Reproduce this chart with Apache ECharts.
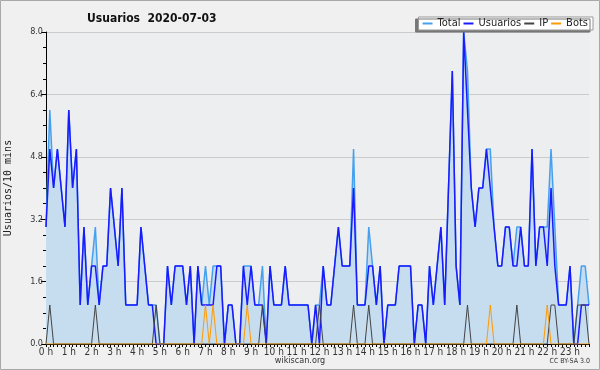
<!DOCTYPE html>
<html><head><meta charset="utf-8">
<script src="https://cdn.jsdelivr.net/npm/echarts@6/dist/echarts.min.js"></script>
<style>html,body{margin:0;padding:0;background:#f0f0f0}#c{width:600px;height:370px}</style>
</head><body><div id="c"></div>
<script>
const hours = ["0 h","1 h","2 h","3 h","4 h","5 h","6 h","7 h","8 h","9 h","10 h","11 h","12 h","13 h","14 h","15 h","16 h","17 h","18 h","19 h","20 h","21 h","22 h","23 h"];
const yTicks = [0, 1.6, 3.2, 4.8, 6.4, 8.0];
const total = [3,6,4,5,4,3,6,4,5,1,3,1,2,3,1,2,2,4,3,2,4,1,1,1,
  1,3,2,1,1,1,0,0,2,1,2,2,2,1,2,0,2,1,2,1,2,2,2,0,
  1,1,0,0,2,2,2,1,1,2,0,2,1,1,1,2,1,1,1,1,1,1,0,1,
  1,2,1,1,2,3,2,2,2,5,1,1,1,3,2,1,2,0,1,1,1,2,2,2,
  2,0,1,1,0,2,1,2,3,1,4,7,2,1,8,7,4,3,4,4,5,5,3,2,
  2,3,3,2,3,3,2,2,5,2,3,3,3,5,3,1,1,1,2,0,1,2,2,1];
const usuarios = [3,5,4,5,4,3,6,4,5,1,3,1,2,2,1,2,2,4,3,2,4,1,1,1,
  1,3,2,1,1,0,0,0,2,1,2,2,2,1,2,0,2,1,1,1,1,2,2,0,
  1,1,0,0,2,1,2,1,1,1,0,2,1,1,1,2,1,1,1,1,1,1,0,1,
  0,2,1,1,2,3,2,2,2,4,1,1,1,2,2,1,2,0,1,1,1,2,2,2,
  2,0,1,1,0,2,1,2,3,1,4,7,2,1,8,6,4,3,4,4,5,4,3,2,
  2,3,3,2,2,3,2,2,5,2,3,3,2,4,2,1,1,1,2,0,0,1,1,1];
const ip = [0,1,0,0,0,0,0,0,0,0,0,0,0,1,0,0,0,0,0,0,0,0,0,0,
  0,0,0,0,0,1,0,0,0,0,0,0,0,0,0,0,0,0,0,0,0,0,0,0,
  0,0,0,0,0,0,0,0,0,1,0,0,0,0,0,0,0,0,0,0,0,0,0,0,
  1,0,0,0,0,0,0,0,0,1,0,0,0,1,0,0,0,0,0,0,0,0,0,0,
  0,0,0,0,0,0,0,0,0,0,0,0,0,0,0,1,0,0,0,0,0,0,0,0,
  0,0,0,0,1,0,0,0,0,0,0,0,0,1,1,0,0,0,0,0,1,1,1,0];
const bots = [0,0,0,0,0,0,0,0,0,0,0,0,0,0,0,0,0,0,0,0,0,0,0,0,
  0,0,0,0,0,0,0,0,0,0,0,0,0,0,0,0,0,0,1,0,1,0,0,0,
  0,0,0,0,0,1,0,0,0,0,0,0,0,0,0,0,0,0,0,0,0,0,0,0,
  0,0,0,0,0,0,0,0,0,0,0,0,0,0,0,0,0,0,0,0,0,0,0,0,
  0,0,0,0,0,0,0,0,0,0,0,0,0,0,0,0,0,0,0,0,0,1,0,0,
  0,0,0,0,0,0,0,0,0,0,0,0,1,0,0,0,0,0,0,0,0,0,0,0];
const slots = total.map((_, i) => String(i));
const FONT = "'DejaVu Sans Condensed','DejaVu Sans',sans-serif";

const chart = echarts.init(document.getElementById('c'), null, {renderer:'canvas'});
chart.setOption({
  animation: false,
  backgroundColor: '#f0f0f0',
  textStyle: {fontFamily: FONT},
  title: {text: 'Usuarios  2020-07-03', left: 82, top: 8,
    textStyle: {fontFamily: FONT, fontSize: 12, fontWeight: 'bold', color: '#111'}},
  legend: {
    right: 7, top: 17, orient: 'horizontal',
    backgroundColor: '#ffffff', borderColor: '#999', borderWidth: 1,
    padding: [1, 5, 1, 4], itemGap: 3, itemWidth: 10, itemHeight: 2, icon: 'rect',
    shadowColor: '#777', shadowOffsetX: -3, shadowOffsetY: 2, shadowBlur: 0,
    textStyle: {fontFamily: FONT, fontSize: 11, color: '#222'},
    data: ['Total','Usuarios','IP','Bots']
  },
  grid: {left: 46, right: 11, top: 32, bottom: 26, show: true, backgroundColor: '#eceef0', borderWidth: 0,
    containLabel: false, outerBoundsMode: 'none'},
  xAxis: {
    type: 'category', data: slots, boundaryGap: false,
    axisLine: {lineStyle: {color: '#000', width: 1}},
    axisTick: {interval: 0, length: 3, lineStyle: {color: '#000'}},
    axisLabel: {interval: (i) => i % 6 === 0, formatter: (v, i) => hours[i / 6],
      fontSize: 10, color: '#333', margin: 3, fontFamily: FONT},
    splitLine: {show: false}
  },
  yAxis: {
    type: 'value', min: yTicks[0], max: yTicks[yTicks.length - 1], interval: yTicks[1],
    name: 'Usuarios/10 mins', nameLocation: 'middle', nameGap: 33, nameRotate: 90,
    nameTextStyle: {fontFamily: "'DejaVu Sans Mono',monospace", fontSize: 10, color: '#222'},
    axisLine: {show: true, lineStyle: {color: '#000'}},
    axisTick: {show: true, length: 5, lineStyle: {color: '#000'}},
    minorTick: {show: true, splitNumber: 4, length: 3, lineStyle: {color: '#000'}},
    axisLabel: {formatter: (v) => v.toFixed(1), fontSize: 9, color: '#333', margin: 3, fontFamily: FONT},
    splitLine: {show: true, lineStyle: {color: '#cbcbcb', width: 1}}
  },
  series: [
    {name: 'Total', type: 'line', data: total, symbol: 'none', z: 1,
     lineStyle: {color: '#46a0f0', width: 1.5}, itemStyle: {color: '#46a0f0'},
     areaStyle: {color: '#c6dcef', opacity: 1}},
    {name: 'Usuarios', type: 'line', data: usuarios, symbol: 'none', z: 2,
     lineStyle: {color: '#1a1aff', width: 1.5}, itemStyle: {color: '#1a1aff'}},
    {name: 'IP', type: 'line', data: ip, symbol: 'none', z: 3,
     lineStyle: {color: '#444', width: 1}, itemStyle: {color: '#444'}},
    {name: 'Bots', type: 'line', data: bots, symbol: 'none', z: 4,
     lineStyle: {color: '#ff9a00', width: 1}, itemStyle: {color: '#ff9a00'}}
  ],
  graphic: [
    {type: 'rect', shape: {x: 0.5, y: 0.5, width: 599, height: 369}, style: {fill: 'none', stroke: '#a8a8a8', lineWidth: 1}, z: 100},
    {type: 'text', left: 'center', top: 356, style: {text: 'wikiscan.org', fontSize: 9, fill: '#333', fontFamily: FONT}},
    {type: 'text', right: 10, top: 358, style: {text: 'CC BY-SA 3.0', fontSize: 7, fill: '#333', fontFamily: FONT}}
  ]
});
</script></body></html>
